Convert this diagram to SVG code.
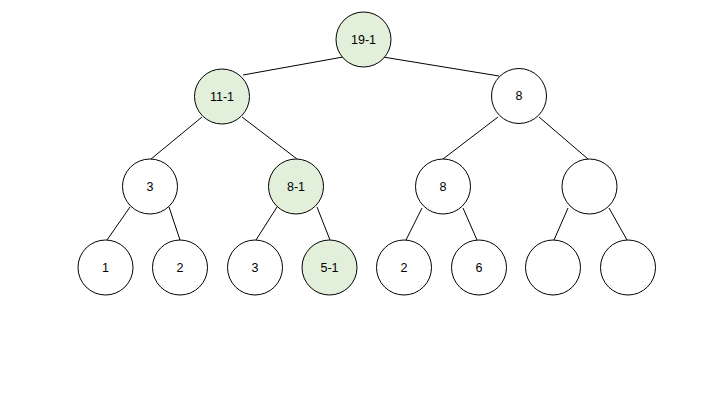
<svg xmlns="http://www.w3.org/2000/svg" width="720" height="405" viewBox="0 0 720 405">
<style>
circle{fill:#ffffff;stroke:#000000;stroke-width:1}
.g circle{fill:#e2efda}
text{font-family:"Liberation Sans",Arial,sans-serif;font-size:12.5px;fill:#000;text-anchor:middle;dominant-baseline:central}
#edges line{stroke:#000;stroke-width:1}
</style>
<rect width="720" height="405" fill="#ffffff"/>
<g id="edges">
<line x1="343" y1="57" x2="243" y2="75"/>
<line x1="383" y1="57" x2="499" y2="76"/>
<line x1="202" y1="117" x2="151" y2="159"/>
<line x1="242" y1="117" x2="297" y2="159"/>
<line x1="498" y1="117" x2="443" y2="159"/>
<line x1="539" y1="117" x2="588" y2="159"/>
<line x1="130" y1="207" x2="107" y2="240"/>
<line x1="169" y1="207" x2="180" y2="240"/>
<line x1="277" y1="207" x2="256" y2="240"/>
<line x1="317" y1="207" x2="330" y2="240"/>
<line x1="422" y1="208" x2="406" y2="240"/>
<line x1="463" y1="208" x2="477" y2="240"/>
<line x1="568" y1="208" x2="554" y2="240"/>
<line x1="609" y1="208" x2="627" y2="240"/>
</g>
<g id="n19" class="g"><circle cx="363.5" cy="39.5" r="27.5"/><text x="363.5" y="39.5">19-1</text></g>
<g id="n11" class="g"><circle cx="222" cy="96.5" r="27.5"/><text x="222" y="96.5">11-1</text></g>
<g id="n8a"><circle cx="519" cy="96" r="27.5"/><text x="519" y="96">8</text></g>
<g id="n3a"><circle cx="150" cy="186.5" r="27.5"/><text x="150" y="186.5">3</text></g>
<g id="n8b" class="g"><circle cx="296" cy="186.5" r="27.5"/><text x="296" y="186.5">8-1</text></g>
<g id="n8c"><circle cx="443" cy="186.5" r="27.5"/><text x="443" y="186.5">8</text></g>
<g id="nEa"><circle cx="589.5" cy="186.5" r="27.5"/></g>
<g id="n1"><circle cx="105.5" cy="267.5" r="27.5"/><text x="105.5" y="267.5">1</text></g>
<g id="n2a"><circle cx="180" cy="267.5" r="27.5"/><text x="180" y="267.5">2</text></g>
<g id="n3b"><circle cx="255" cy="267.5" r="27.5"/><text x="255" y="267.5">3</text></g>
<g id="n5" class="g"><circle cx="329.5" cy="267.5" r="27.5"/><text x="329.5" y="267.5">5-1</text></g>
<g id="n2b"><circle cx="404" cy="267.5" r="27.5"/><text x="404" y="267.5">2</text></g>
<g id="n6"><circle cx="479" cy="267.5" r="27.5"/><text x="479" y="267.5">6</text></g>
<g id="nEb"><circle cx="553" cy="267.5" r="27.5"/></g>
<g id="nEc"><circle cx="628" cy="267.5" r="27.5"/></g>
</svg>
